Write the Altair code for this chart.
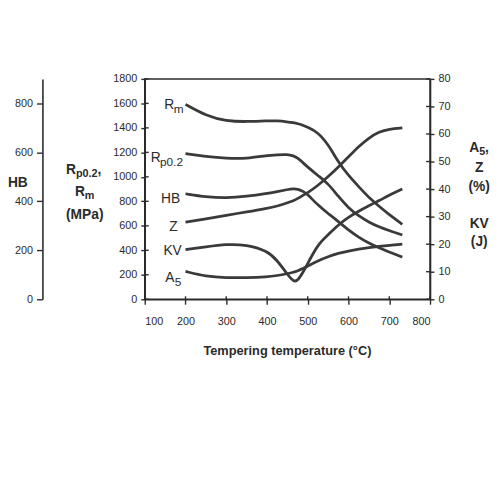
import altair as alt
import pandas as pd

# ---- data ----
temps = [200, 250, 300, 350, 400, 425, 450, 465, 475, 490, 500, 525, 550, 575, 600, 625, 650, 675, 700, 732]
rm = [1592, 1500, 1455, 1450, 1458, 1458, 1450, 1442, 1435, 1420, 1405, 1364, 1265, 1120, 1010, 920, 830, 760, 690, 612]
rp = [1189, 1166, 1150, 1148, 1175, 1180, 1184, 1172, 1155, 1110, 1080, 1010, 945, 840, 745, 680, 630, 590, 560, 525]
hb = [431, 418, 413, 420, 432, 440, 448, 452, 450, 440, 428, 384, 350, 318, 282, 253, 229, 210, 193, 172]
zz = [28, 29.2, 30.5, 31.7, 33, 33.8, 35, 35.8, 36.5, 37.9, 38.7, 41.3, 44.5, 48, 51.7, 55.5, 58.6, 60.8, 61.8, 62.2]
kv = [18, 19, 20, 19.8, 17.6, 14.2, 9, 6.4, 6.6, 10.2, 13, 20, 23.4, 27, 29.8, 32, 34, 35.8, 37.8, 40]
a5 = [10.1, 8.3, 7.8, 7.8, 8.1, 8.6, 9.3, 9.8, 10.3, 11.3, 12, 14, 15.5, 16.7, 17.5, 18.2, 18.8, 19.2, 19.6, 20]

label_base = ["R", "R", "HB", "Z", "KV", "A"]
label_sub = ["m", "p0.2", "", "", "", "5"]
label_t = [148, 114.5, 140, 160, 145.8, 150.6]
label_v = [1589, 1155, 817, 587, 396, 175]

temp_ticks = [100, 200, 300, 400, 500, 600, 700, 800]
mpa_ticks = [0, 200, 400, 600, 800, 1000, 1200, 1400, 1600, 1800]
hb_ticks = [0, 200, 400, 600, 800]
pct_ticks = [0, 10, 20, 30, 40, 50, 60, 70, 80]

x_title = "Tempering temperature (°C)"

FONT = "Liberation Sans"
INK = "#2b2b2b"
LINE = "#3a3a3a"

n = len(temps)
mpa_df = pd.DataFrame({"T": temps * 2, "v": rm + rp, "s": ["Rm"] * n + ["Rp"] * n})
hb_df = pd.DataFrame({"T": temps, "v": hb, "s": ["HB"] * n})
pct_df = pd.DataFrame({"T": temps * 3, "v": zz + kv + a5, "s": ["Z"] * n + ["KV"] * n + ["A5"] * n})
lab_df = pd.DataFrame({"T": label_t, "v": label_v, "b": label_base, "sub": label_sub})

x_axis = alt.Axis(values=temp_ticks, orient="bottom", title=None, tickSize=5, labelPadding=12, format="d")
xenc = alt.X("T:Q", scale=alt.Scale(domain=[100, 800], nice=False), axis=x_axis)

line_kw = dict(interpolate="basis", color=LINE, strokeWidth=2.8)

mpa_layer = alt.Chart(mpa_df).mark_line(**line_kw).encode(
    x=xenc,
    y=alt.Y("v:Q", scale=alt.Scale(domain=[0, 1800], nice=False),
            axis=alt.Axis(orient="left", values=mpa_ticks, title=None, tickSize=4, labelPadding=4, format="d")),
    detail="s:N",
)
hb_layer = alt.Chart(hb_df).mark_line(**line_kw).encode(
    x=xenc,
    y=alt.Y("v:Q", scale=alt.Scale(domain=[0, 900], nice=False),
            axis=alt.Axis(orient="left", offset=104, values=hb_ticks, title=None, tickSize=6, labelPadding=4, format="d")),
    detail="s:N",
)
pct_layer = alt.Chart(pct_df).mark_line(**line_kw).encode(
    x=xenc,
    y=alt.Y("v:Q", scale=alt.Scale(domain=[0, 80], nice=False),
            axis=alt.Axis(orient="right", values=pct_ticks, title=None, tickSize=4, labelPadding=4, format="d")),
    detail="s:N",
)

# inner halves of the crossing ticks
mpa_in = alt.Chart(pd.DataFrame({"v": mpa_ticks})).mark_rule(color=INK, strokeWidth=1.4).encode(
    y=alt.Y("v:Q", scale=alt.Scale(domain=[0, 1800], nice=False), axis=None),
    x=alt.value(0), x2=alt.value(4),
)
pct_in = alt.Chart(pd.DataFrame({"v": pct_ticks})).mark_rule(color=INK, strokeWidth=1.4).encode(
    y=alt.Y("v:Q", scale=alt.Scale(domain=[0, 80], nice=False), axis=None),
    x=alt.value(286), x2=alt.value(290),
)
x_in = alt.Chart(pd.DataFrame({"T": temp_ticks})).mark_rule(color=INK, strokeWidth=1.4).encode(
    x=xenc, y=alt.value(221), y2=alt.value(224),
)

lab_y = alt.Y("v:Q", scale=alt.Scale(domain=[0, 1800], nice=False), axis=None)
lab_base = alt.Chart(lab_df).mark_text(font=FONT, fontSize=14, align="left", baseline="middle", color=INK).encode(
    x=xenc, y=lab_y, text="b:N")
lab_sub = alt.Chart(lab_df).mark_text(font=FONT, fontSize=12, align="left", baseline="middle", color=INK,
                                       dx=9.5, dy=4).encode(x=xenc, y=lab_y, text="sub:N")


def txt(s, x, y, size=14, weight="bold", align="center"):
    return alt.Chart(alt.Data(values=[{"t": s}])).mark_text(
        font=FONT, fontSize=size, fontWeight=weight, align=align, baseline="middle", color=INK
    ).encode(x=alt.value(x), y=alt.value(y), text="t:N")


titles = [
    txt(x_title, 145, 277, size=13),
    txt("HB", -129, 106),
    # Rp0.2,
    txt("R", -80, 93, align="left"),
    txt("p0.2", -70, 97, size=11, align="left"),
    txt(",", -48, 93, align="left"),
    # Rm
    txt("R", -71, 115, align="left"),
    txt("m", -61, 119, size=11, align="left"),
    txt("(MPa)", -61, 138),
    # A5,
    txt("A", 330, 70, align="left"),
    txt("5", 340, 74, size=11, align="left"),
    txt(",", 346, 70, align="left"),
    txt("Z", 340, 91),
    txt("(%)", 340, 110),
    txt("KV", 340, 148),
    txt("(J)", 340, 166),
]

chart = (
    alt.layer(mpa_layer, hb_layer, pct_layer, mpa_in, pct_in, x_in, lab_base, lab_sub, *titles)
    .resolve_scale(y="independent")
    .properties(
        width=290,
        height=224,
        autosize=alt.AutoSizeParams(type="none"),
        padding={"left": 139, "top": 69, "right": 63, "bottom": 80},
    )
    .configure_view(stroke=INK, strokeWidth=1.5)
    .configure_axis(
        labelFont=FONT, labelFontSize=11, labelColor=INK, domainColor=INK, tickColor=INK,
        domainWidth=1.6, tickWidth=1.4, grid=False,
    )
)

chart.save("out.html", embed_options={"renderer": "svg", "actions": False})
